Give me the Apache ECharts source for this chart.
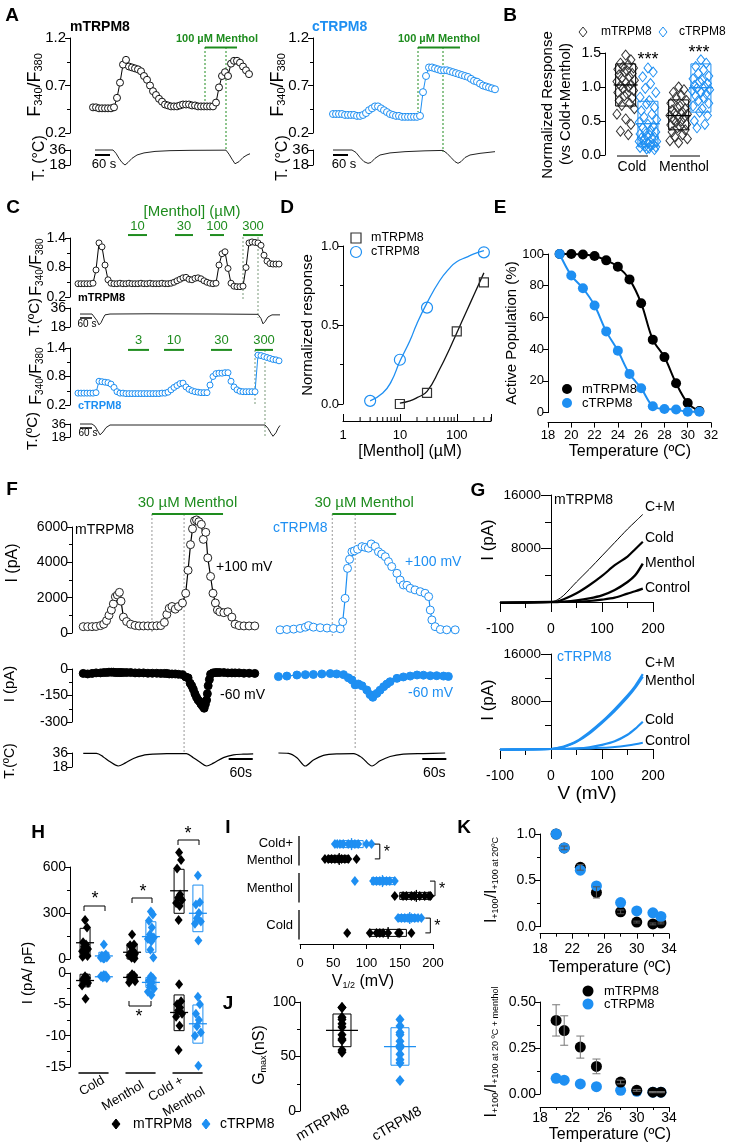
<!DOCTYPE html>
<html>
<head>
<meta charset="utf-8">
<title>TRPM8 figure</title>
<script src="https://cdn.jsdelivr.net/npm/echarts@6/dist/echarts.min.js"></script>
<style>html,body{margin:0;padding:0;background:#fff;}#chart{width:745px;height:1145px;}</style>
</head>
<body>
<div id="chart"></div>
<script>
// ================= DATA =================
// ---- A: Fura-2 ratio (sampled every 12 s) + bath temperature [s, degC]
const A_dt = 12;
const A_mTRPM8 = [0.47,0.47,0.46,0.46,0.46,0.46,0.46,0.47,0.57,0.73,0.92,0.97,0.90,0.89,0.88,0.87,0.85,0.80,0.76,0.70,0.64,0.60,0.56,0.53,0.50,0.49,0.48,0.48,0.48,0.49,0.50,0.50,0.50,0.49,0.49,0.48,0.48,0.48,0.48,0.48,0.48,0.52,0.68,0.80,0.84,0.80,0.93,0.96,0.96,0.94,0.90,0.86,0.82];
const A_cTRPM8 = [0.40,0.40,0.40,0.40,0.39,0.39,0.39,0.39,0.38,0.38,0.39,0.41,0.44,0.46,0.48,0.48,0.46,0.44,0.42,0.40,0.39,0.38,0.38,0.37,0.37,0.37,0.37,0.37,0.37,0.38,0.63,0.80,0.89,0.89,0.88,0.87,0.86,0.86,0.86,0.85,0.84,0.83,0.82,0.81,0.80,0.79,0.77,0.75,0.74,0.72,0.70,0.69,0.68,0.67,0.66];
const A_mTemp = [[8,36],[80,36],[92,32],[104,26],[116,21],[128,18],[140,21],[156,26],[176,30],[204,32.5],[248,34.3],[308,35.2],[388,35.6],[532,35.8],[544,31],[556,25],[568,19.5],[572,18.5],[584,22],[600,27],[616,30],[628,31.5]];
const A_cTemp = [[0,36],[76,36],[92,33],[108,27],[124,22],[140,20],[152,21],[168,26],[188,30],[228,32.5],[288,34],[368,35],[440,35.5],[456,32],[472,27],[488,22],[500,20],[512,22],[528,27],[548,30],[588,32],[648,34]];
const A_mMenthol = [448, 576], A_mDotted = [448, 532], A_mScale = [8, 68];
const A_cMenthol = [340, 508], A_cDotted = [340, 440], A_cScale = [0, 60];

// ---- B: normalized responses (order: mTRPM8 cold, cTRPM8 cold, mTRPM8 menthol, cTRPM8 menthol)
const B_mCold = [1.47,1.40,1.35,1.33,1.30,1.28,1.26,1.24,1.22,1.20,1.18,1.15,1.13,1.10,1.08,1.06,1.04,1.02,1.00,0.98,0.95,0.92,0.90,0.87,0.84,0.80,0.76,0.73,0.68,0.60,0.53,0.45,0.35,0.30];
const B_cCold = [1.28,1.22,1.15,1.05,0.98,0.92,0.85,0.80,0.75,0.70,0.65,0.60,0.56,0.52,0.48,0.45,0.42,0.40,0.37,0.35,0.34,0.31,0.30,0.28,0.26,0.25,0.24,0.22,0.20,0.20,0.18,0.16,0.15,0.14,0.13,0.12,0.11,0.10,0.09,0.08];
const B_mMenthol = [1.00,0.96,0.92,0.88,0.85,0.80,0.76,0.72,0.70,0.68,0.66,0.63,0.62,0.60,0.58,0.55,0.55,0.52,0.50,0.48,0.45,0.44,0.42,0.40,0.37,0.34,0.30,0.27,0.24,0.21,0.18];
const B_cMenthol = [1.40,1.35,1.30,1.25,1.20,1.16,1.12,1.10,1.08,1.05,1.02,1.00,0.98,0.96,0.95,0.92,0.90,0.87,0.84,0.80,0.76,0.72,0.68,0.63,0.58,0.50,0.45,0.40];
const B_boxLow = [0.72, 0.12, 0.37, 0.63];
const B_boxHigh = [1.34, 0.79, 0.81, 1.34];
const B_mean = [1.03, 0.46, 0.58, 0.99];

// ---- C: menthol dose traces (sampled every 15 s)
const C_dt = 15;
const C_mTRPM8 = [0.47,0.47,0.47,0.47,0.47,0.48,0.75,1.30,1.22,0.85,0.55,0.48,0.47,0.47,0.48,0.47,0.47,0.48,0.47,0.47,0.47,0.48,0.47,0.47,0.48,0.47,0.47,0.47,0.48,0.47,0.47,0.48,0.50,0.53,0.56,0.59,0.60,0.56,0.55,0.58,0.59,0.57,0.53,0.50,0.48,0.47,0.48,0.85,1.08,1.12,0.78,0.48,0.42,0.41,0.41,0.42,0.80,1.30,1.32,1.31,1.30,1.25,1.05,0.93,0.88,0.87,0.87,0.87];
const C_cTRPM8 = [0.45,0.45,0.45,0.45,0.45,0.45,0.46,0.70,0.69,0.68,0.67,0.64,0.57,0.48,0.45,0.45,0.44,0.44,0.44,0.44,0.44,0.44,0.44,0.44,0.44,0.44,0.44,0.44,0.45,0.45,0.47,0.52,0.57,0.61,0.65,0.66,0.58,0.53,0.50,0.48,0.47,0.46,0.46,0.46,0.62,0.80,0.86,0.87,0.87,0.88,0.88,0.70,0.58,0.52,0.49,0.48,0.48,0.48,0.48,0.48,1.25,1.24,1.22,1.20,1.18,1.16,1.15,1.13];
const C_mTemp = [[10,30.3],[70,30.3],[80,29],[95,24],[105,20],[115,22],[125,26],[135,29.5],[160,30.3],[360,30.5],[685,30.3],[900,30],[915,26],[925,21],[935,23],[950,27.5],[970,29.5],[1010,29.5]];
const C_cTemp = [[10,36],[70,36],[85,33],[100,26],[110,21],[125,25],[140,31],[160,34.6],[935,34.6],[950,30],[965,23],[975,19],[990,24],[1000,30],[1010,34]];
const C_mBars = [[250,345],[485,575],[660,730],[825,925]];
const C_mBarLabels = ['10','30','100','300'];
const C_cBars = [[250,355],[430,530],[665,770],[885,975]];
const C_cBarLabels = ['3','10','30','300'];
const C_mDotted = [825, 900], C_cDotted = [885, 935], C_scale = [10, 70];

// ---- D: dose-response (menthol, uM)
const D_concM = [10, 30, 100, 300];
const D_respM = [0.00, 0.07, 0.46, 0.77];
const D_concC = [3, 10, 30, 300];
const D_respC = [0.02, 0.28, 0.61, 0.96];
const D_fitMx = [10, 15, 20, 30, 50, 75, 100, 150, 200, 300];
const D_fitMy = [0.005, 0.02, 0.04, 0.08, 0.22, 0.35, 0.45, 0.59, 0.69, 0.83];
const D_fitCx = [3, 5, 7, 10, 15, 20, 30, 50, 75, 100, 150, 200, 300];
const D_fitCy = [0.02, 0.07, 0.14, 0.27, 0.40, 0.51, 0.64, 0.78, 0.86, 0.90, 0.93, 0.95, 0.97];
const D_minorTicks = [2,3,4,5,6,7,8,9,20,30,40,50,60,70,80,90,200,300,400];
const D_majorLabels = [1, 10, 100];

// ---- E: active population vs temperature
const E_T = [19,20,21,22,23,24,25,26,27,28,29,30,31];
const E_m = [100,100,99.7,98.7,96,92,84,69,46,35,18.5,6,1];
const E_c = [100,86.4,78.4,67.5,51.2,39,24.4,15.4,4,2.3,2,0.5,0.5];

// ---- F: whole-cell currents [s, pA] and temperature [s, degC]
const F_mUp = [[0,360],[11,360],[22,360],[32,370],[43,420],[51,500],[58,700],[64,1000],[70,1300],[75,1650],[80,2050],[85,2150],[90,2300],[94,1800],[100,900],[108,650],[118,500],[129,430],[139,400],[150,400],[161,400],[172,400],[183,410],[193,420],[202,600],[208,1050],[214,1400],[221,1500],[229,1350],[237,1500],[247,1700],[255,2250],[261,3550],[267,5000],[272,5900],[277,6350],[282,6400],[288,6300],[294,6150],[299,5300],[305,5700],[310,4250],[317,3200],[323,2250],[329,1700],[334,1300],[340,1200],[350,1150],[360,1200],[370,900],[378,500],[388,420],[400,400],[413,400],[427,400]];
const F_mLo = [[0,-25],[11,-28],[22,-25],[32,-22],[43,-22],[51,-20],[58,-20],[64,-18],[70,-18],[75,-18],[80,-20],[85,-20],[90,-20],[94,-20],[100,-20],[108,-20],[118,-20],[129,-22],[139,-22],[150,-22],[161,-24],[172,-24],[183,-24],[193,-25],[202,-25],[208,-25],[214,-28],[221,-28],[229,-28],[237,-30],[247,-32],[255,-45],[261,-50],[266,-80],[270,-95],[274,-115],[278,-140],[282,-160],[286,-176],[290,-185],[293,-198],[297,-210],[301,-222],[304,-200],[307,-176],[309,-140],[311,-95],[314,-60],[317,-30],[323,-22],[329,-20],[334,-20],[340,-20],[350,-20],[360,-22],[370,-22],[378,-22],[388,-22],[400,-24],[413,-24],[427,-25]];
const F_cUp = [[8,180],[25,200],[42,220],[58,260],[71,330],[79,420],[91,330],[108,300],[125,280],[141,260],[158,240],[164,640],[170,1960],[176,3660],[181,4170],[187,4600],[193,4650],[201,4740],[212,4890],[220,4850],[228,4800],[235,5040],[245,4900],[253,4600],[261,4470],[270,4320],[278,4040],[286,3760],[299,3380],[307,3000],[315,2720],[324,2700],[332,2530],[344,2440],[357,2340],[369,2250],[378,2060],[382,1300],[386,740],[394,360],[407,200],[423,180],[444,180]];
const F_cLo = [[4,-43],[25,-40],[50,-34],[71,-32],[91,-31],[112,-28],[133,-26],[149,-28],[166,-32],[178,-50],[187,-62],[195,-90],[203,-85],[212,-95],[224,-119],[232,-145],[239,-160],[249,-138],[257,-120],[266,-100],[274,-85],[282,-72],[299,-53],[315,-45],[332,-40],[349,-34],[365,-35],[382,-38],[398,-38],[415,-40],[427,-42]];
const F_mTemp = [[0,35.6],[33,35.6],[50,31],[66,25],[87,19.3],[104,23],[125,29],[149,33],[174,34.5],[208,35.3],[257,35.3],[274,30],[291,24],[307,19.3],[324,23],[349,30],[374,33.5],[398,34.5],[423,35]];
const F_cTemp = [[4,36],[29,35.5],[50,30],[71,19.3],[91,27],[116,33],[149,35],[191,35.3],[212,30],[237,19.3],[257,26],[282,31.5],[315,34.5],[365,35.3],[419,36]];
const F_mMenthol = [171, 348], F_mDotted = [171, 251];
const F_cMenthol = [138, 297], F_cDotted = [138, 195];
const F_scale = [362, 422];

// ---- G: I-V curves (mV, pA)
const G_V = [-100,-50,0,12,25,50,75,100,125,150,165,180];
const G_mCM = [-200,-100,0,300,1000,3000,4900,6900,8900,10900,12000,13100];
const G_mCold = [-150,-80,0,80,400,1300,2500,3900,5500,6800,7900,9000];
const G_mMenthol = [-100,-50,0,0,50,250,550,1000,1800,3000,4000,5750];
const G_mControl = [-100,-50,0,0,0,60,150,350,650,1250,1600,2000];
const G_cCM = [-150,-80,0,150,400,1300,2800,4600,6700,9000,10600,12600];
const G_cMenthol = [-150,-80,0,120,350,1200,2600,4400,6400,8700,10300,12200];
const G_cCold = [-100,-50,0,0,20,100,300,700,1300,2400,3400,4600];
const G_cControl = [-100,-50,0,0,0,50,100,200,350,600,800,1050];

// ---- H: current densities (pA/pF); order m/c Cold, m/c Menthol, m/c Cold+Menthol
const H_upMCold = [255,205,110,95,80,65,50,40,30,20,15];
const H_upCCold = [95,30,22,18,14,10,8,5,3];
const H_upMMenthol = [160,95,90,55,45,35,25,15,8,3];
const H_upCMenthol = [310,290,250,205,160,140,130,115,60,10];
const H_upMCM = [695,645,590,420,400,385,365,345,255];
const H_upCCM = [545,370,355,300,265,245,230,120];
const H_upBoxLow = [15,0,0,44,298,178];
const H_upBoxHigh = [200,44,100,243,585,482];
const H_upMean = [106,20,44,146,445,298];
const H_loMCold = [-0.5,-0.8,-1.0,-1.2,-1.4,-1.6,-2.0,-4.1];
const H_loCCold = [-0.3,-0.4,-0.5,-0.6,-0.7,-0.8,-0.5];
const H_loMMenthol = [-0.2,-0.4,-0.6,-0.8,-1.0,-1.3,-1.5];
const H_loCMenthol = [-0.5,-0.8,-1.2,-1.5,-2.0,-2.5,-3.0,-3.5];
const H_loMCM = [-1.8,-4.5,-5.0,-5.5,-6.0,-6.5,-7.0,-8.4,-12.3];
const H_loCCM = [-3.8,-5.0,-6.5,-7.5,-8.5,-9.5,-10.0,-14.8];
const H_loBoxLow = [-2.2,-0.8,-1.2,-2.3,-9.2,-11.2];
const H_loBoxHigh = [-0.2,-0.3,-0.2,-0.7,-3.5,-5.1];
const H_loMean = [-1.2,-0.6,-0.7,-1.5,-6.3,-8.1];

// ---- I: V1/2 (mV); order cCM, mCM, cMenthol, mMenthol, cCold, mCold
const I_cCM = [52.5,56,60,65,72.5,77.5,82.5,87.5,100,107.5];
const I_mCM = [37.5,42.5,47.5,52.5,57.5,62.5,67.5,72.5,85];
const I_cMenthol = [82.5,110,115,120,125,130,135,142.5];
const I_mMenthol = [142.5,155,160,167.5,172.5,180,187.5,194,196];
const I_cCold = [147.5,152.5,157.5,162.5,167.5,172.5,177.5,182.5];
const I_mCold = [71,105,115,120,125,132.5,147.5,150,167.5];
const I_boxLow = [60,42.5,107.5,150,147.5,105];
const I_boxHigh = [95,74,142.5,197.5,175,160];
const I_mean = [77.5,59,124,175,165,132.5];

// ---- J: Gmax (nS)
const J_m = [95,95,86,84,80,77,70,66,65,56,54];
const J_c = [84,78,72,70,64,60,58,52,47,44,28];
const J_boxLow = [59,42];
const J_boxHigh = [89,76.4];
const J_mean = [74,59];
const J_categories = ['mTRPM8','cTRPM8'];

// ---- K: normalized currents vs temperature
const K_T = [20,21,23,25,28,30,32,33];
const K_upM = [1.0,0.85,0.64,0.37,0.16,0.05,0.03,0.04];
const K_upMerr = [0,0.02,0.03,0.06,0.02,0.01,0.01,0.01];
const K_upC = [1.0,0.85,0.61,0.44,0.26,0.17,0.15,0.11];
const K_loM = [0.40,0.345,0.255,0.15,0.065,0.02,0.01,0.01];
const K_loMerr = [0.085,0.08,0.06,0.04,0.01,0.005,0.003,0.003];
const K_loC = [0.085,0.075,0.055,0.04,0.02,0.015,0.01,0.01];

// ================= HELPERS =================
const FONT = '"Liberation Sans", Arial, Helvetica, sans-serif';
const BLUE = '#1e8ff2', GREEN = '#1e8c1e', BLK = '#000';
const PI2 = Math.PI / 2;
const JIT = [0, 0.6, -0.6, 0.3, -0.3, 0.9, -0.9, 0.15, -0.15, 0.75, -0.75, 0.45, -0.45, 1, -1];
const jit = i => JIT[i % JIT.length];
const f0 = v => String(v), f1 = v => v.toFixed(1), f2 = v => v.toFixed(2);

function merge(a, b) {
  const out = Object.assign({}, a);
  for (const k in b) {
    const v = b[k];
    if (v && typeof v === 'object' && !Array.isArray(v) && out[k] && typeof out[k] === 'object' && !Array.isArray(out[k])) out[k] = merge(out[k], v);
    else out[k] = v;
  }
  return out;
}
const baseAxis = {
  type: 'value', show: true,
  axisLine: {show: true, onZero: false, lineStyle: {color: '#000', width: 1}},
  axisTick: {show: true, inside: false, length: 5, lineStyle: {color: '#000', width: 1}},
  minorTick: {show: false, splitNumber: 2, length: 3, lineStyle: {color: '#000', width: 1}},
  splitLine: {show: false}, minorSplitLine: {show: false},
  axisLabel: {show: true, color: '#000', fontSize: 13, fontFamily: FONT, margin: 4, hideOverlap: false,
    showMinLabel: true, showMaxLabel: true, formatter: f0}
};
const ax = o => merge(baseAxis, o || {});
const hid = (min, max, extra) => merge({type: 'value', min: min, max: max, show: false, axisLine: {onZero: false}}, extra || {});

const grids = [], xAxes = [], yAxes = [], series = [];
function grid(left, top, width, height, xa, ya) {
  const i = grids.length;
  grids.push({left: left, top: top, width: width, height: height, containLabel: false, outerBoundsMode: 'none'});
  xAxes.push(merge(xa, {gridIndex: i}));
  yAxes.push(merge(ya, {gridIndex: i}));
  return i;
}
function add(g, s) { series.push(merge({xAxisIndex: g, yAxisIndex: g, animation: false, silent: true, clip: false}, s)); }
function circTrace(g, data, stroke, lineColor, size, fill, lw) {
  add(g, {type: 'line', data: data, symbol: 'circle', symbolSize: size, showSymbol: true, showAllSymbol: true, z: 3,
    itemStyle: {color: fill, borderColor: stroke, borderWidth: 1},
    lineStyle: {color: lineColor, width: lw || 1}});
}
function plain(g, data, color, width, extra) {
  add(g, merge({type: 'line', data: data, symbol: 'none', showSymbol: false, z: 3, lineStyle: {color: color, width: width}}, extra || {}));
}
function pts(g, data, symbol, size, fill, stroke, bw, z) {
  add(g, {type: 'scatter', data: data, symbol: symbol, symbolSize: size, z: z || 3,
    itemStyle: {color: fill, borderColor: stroke, borderWidth: bw || 0, opacity: 1}});
}
function vBoxes(g, xs, lows, highs, means, colors, halfW, meanHalf) {
  add(g, {type: 'custom', z: 4, data: xs.map((x, i) => [x, lows[i], highs[i], means[i]]),
    renderItem: (p, api) => {
      const x = api.value(0), c = colors[p.dataIndex];
      const lo = api.coord([x, api.value(1)]), hi = api.coord([x, api.value(2)]), m = api.coord([x, api.value(3)]);
      return {type: 'group', children: [
        {type: 'rect', shape: {x: lo[0] - halfW, y: hi[1], width: 2 * halfW, height: lo[1] - hi[1]}, style: {fill: 'none', stroke: c, lineWidth: 1}},
        {type: 'line', shape: {x1: m[0] - meanHalf, y1: m[1], x2: m[0] + meanHalf, y2: m[1]}, style: {stroke: c, lineWidth: 1.3}}
      ]};
    }});
}
function hBoxes(g, rows, lows, highs, means, colors, halfH, meanHalf) {
  add(g, {type: 'custom', z: 4, data: rows.map((r, i) => [lows[i], r, highs[i], means[i]]),
    renderItem: (p, api) => {
      const r = api.value(1), c = colors[p.dataIndex];
      const lo = api.coord([api.value(0), r]), hi = api.coord([api.value(2), r]), m = api.coord([api.value(3), r]);
      return {type: 'group', children: [
        {type: 'rect', shape: {x: lo[0], y: lo[1] - halfH, width: hi[0] - lo[0], height: 2 * halfH}, style: {fill: 'none', stroke: c, lineWidth: 1}},
        {type: 'line', shape: {x1: m[0], y1: m[1] - meanHalf, x2: m[0], y2: m[1] + meanHalf}, style: {stroke: c, lineWidth: 1.3}}
      ]};
    }});
}
function errBars(g, xs, ys, es, color, cap) {
  add(g, {type: 'custom', z: 6, data: xs.map((x, i) => [x, ys[i], es[i]]),
    renderItem: (p, api) => {
      const x = api.value(0), y = api.value(1), e = api.value(2);
      if (!e) return {type: 'group', children: []};
      const a = api.coord([x, y + e]), b = api.coord([x, y - e]);
      const st = {stroke: color, lineWidth: 1};
      return {type: 'group', children: [
        {type: 'line', shape: {x1: a[0], y1: a[1], x2: b[0], y2: b[1]}, style: st},
        {type: 'line', shape: {x1: a[0] - cap, y1: a[1], x2: a[0] + cap, y2: a[1]}, style: st},
        {type: 'line', shape: {x1: b[0] - cap, y1: b[1], x2: b[0] + cap, y2: b[1]}, style: st}
      ]};
    }});
}

// ================= PANELS =================
// ---- A
const yA = ax({min: 0.2, max: 1.2, interval: 0.5, minorTick: {show: true}, axisLabel: {fontSize: 15, formatter: f1}});
const yT15 = ax({min: 18, max: 36, interval: 18, axisLabel: {fontSize: 15}});
const gA1 = grid(70, 38, 185, 95, hid(-92, 648), yA);
const gA1t = grid(70, 150, 185, 15, hid(-92, 648), yT15);
const gA2 = grid(313, 38, 185, 95, hid(-80, 660), yA);
const gA2t = grid(313, 150, 185, 15, hid(-80, 660), yT15);
circTrace(gA1, A_mTRPM8.map((v, i) => [i * A_dt, v]), '#111', '#000', 7, '#fff');
circTrace(gA2, A_cTRPM8.map((v, i) => [i * A_dt, v]), BLUE, BLUE, 7, '#fff');
plain(gA1t, A_mTemp, '#222', 1);
plain(gA2t, A_cTemp, '#222', 1);
plain(gA1, A_mMenthol.map(t => [t, 1.1]), GREEN, 2);
plain(gA2, A_cMenthol.map(t => [t, 1.1]), GREEN, 2);
plain(gA1t, A_mScale.map(t => [t, 30]), '#000', 2);
plain(gA2t, A_cScale.map(t => [t, 30]), '#000', 2);

// ---- B
const gB = grid(605, 53, 115, 102, hid(-0.2, 4.14), ax({min: 0, max: 1.5, interval: 0.5, axisLabel: {fontSize: 14, formatter: f1}}));
const B_x = [0.58, 1.42, 2.58, 3.42];
[B_mCold, B_cCold, B_mMenthol, B_cMenthol].forEach((arr, k) =>
  pts(gB, arr.map((v, i) => [B_x[k] + jit(i) * 0.33, v]), 'diamond', [8, 10], 'rgba(255,255,255,0)', k % 2 ? BLUE : '#333', 1));
vBoxes(gB, B_x, B_boxLow, B_boxHigh, B_mean, [BLK, BLUE, BLK, BLUE], 10, 12);

// ---- C
const yC = ax({min: 0.2, max: 1.4, interval: 0.6, minorTick: {show: true}, axisLabel: {fontSize: 14, formatter: f1}});
const yT14 = ax({min: 18, max: 36, interval: 18, axisLabel: {fontSize: 14}});
const yT13 = ax({min: 18, max: 36, interval: 18, axisLabel: {fontSize: 13}});
const gC1 = grid(70, 238, 220, 59, hid(-40, 1060), yC);
const gC1t = grid(70, 308, 220, 19, hid(-40, 1060), yT14);
const gC2 = grid(70, 348, 220, 57, hid(-40, 1060), yC);
const gC2t = grid(70, 424, 220, 13, hid(-40, 1060), yT13);
circTrace(gC1, C_mTRPM8.map((v, i) => [i * C_dt, v]), '#222', '#000', 6, '#fff');
circTrace(gC2, C_cTRPM8.map((v, i) => [i * C_dt, v]), BLUE, BLUE, 6, '#fff');
plain(gC1t, C_mTemp, '#222', 1);
plain(gC2t, C_cTemp, '#222', 1);
C_mBars.forEach(b => plain(gC1, b.map(t => [t, 1.46]), GREEN, 2));
C_cBars.forEach(b => plain(gC2, b.map(t => [t, 1.36]), GREEN, 2));
plain(gC1t, C_scale.map(t => [t, 26.5]), '#000', 1.5);
plain(gC2t, C_scale.map(t => [t, 30.5]), '#000', 1.5);

// ---- D
const gD = grid(343, 246, 148, 158,
  ax({type: 'log', logBase: 10, min: 1, max: 400, offset: 17, axisTick: {inside: true, length: 7},
      axisLabel: {fontSize: 13, margin: 8, formatter: v => D_majorLabels.indexOf(v) >= 0 ? String(v) : ''}}),
  ax({min: 0, max: 1, interval: 0.5, minorTick: {show: true}, axisLabel: {fontSize: 13, formatter: f1}}));
add(gD, {type: 'custom', z: 3, data: D_minorTicks.map(v => [v, 0]), renderItem: (p, api) => {
  const c = api.coord([api.value(0), 0]);
  return {type: 'line', shape: {x1: c[0], y1: c[1] + 17, x2: c[0], y2: c[1] + 13}, style: {stroke: '#000', lineWidth: 1}};
}});
plain(gD, D_fitMx.map((x, i) => [x, D_fitMy[i]]), '#111', 1.3, {smooth: true});
plain(gD, D_fitCx.map((x, i) => [x, D_fitCy[i]]), BLUE, 1.3, {smooth: true});
pts(gD, D_concM.map((x, i) => [x, D_respM[i]]), 'rect', 9, 'rgba(255,255,255,0)', '#333', 1.2, 5);
pts(gD, D_concC.map((x, i) => [x, D_respC[i]]), 'circle', 11, 'rgba(255,255,255,0)', BLUE, 1.2, 5);

// ---- E
const gE = grid(548, 254, 163, 158.6,
  ax({min: 18, max: 32, interval: 2, offset: 10, axisLabel: {fontSize: 13, margin: 6}}),
  ax({min: 0, max: 100, interval: 20, axisLabel: {fontSize: 13}}));
add(gE, {type: 'line', data: E_T.map((t, i) => [t, E_m[i]]), smooth: 0.35, symbol: 'circle', symbolSize: 10, showAllSymbol: true, z: 3,
  itemStyle: {color: '#000'}, lineStyle: {color: '#000', width: 2}});
add(gE, {type: 'line', data: E_T.map((t, i) => [t, E_c[i]]), smooth: 0.35, symbol: 'circle', symbolSize: 10, showAllSymbol: true, z: 4,
  itemStyle: {color: BLUE}, lineStyle: {color: BLUE, width: 2}});

// ---- F
const gF1 = grid(72, 527, 190, 106, hid(-28, 445), ax({min: 0, max: 6000, interval: 2000, minorTick: {show: true}, axisLabel: {fontSize: 14}}));
const gF2 = grid(72, 669, 190, 53, hid(-28, 445), ax({min: -300, max: 0, interval: 150, minorTick: {show: true}, axisLabel: {fontSize: 14}}));
const gF3 = grid(72, 753, 190, 14, hid(-28, 445), yT14);
const gF4 = grid(270, 527, 190, 106, hid(-17, 456), hid(0, 6000));
const gF5 = grid(270, 669, 190, 53, hid(-17, 456), hid(-300, 0));
const gF6 = grid(270, 753, 190, 14, hid(-17, 456), hid(18, 36));
circTrace(gF1, F_mUp, '#222', '#000', 8, '#fff', 1.2);
circTrace(gF4, F_cUp, BLUE, BLUE, 8, '#fff', 1.2);
circTrace(gF2, F_mLo, '#000', '#000', 8, '#000', 1.2);
circTrace(gF5, F_cLo, BLUE, BLUE, 8, BLUE, 1.2);
plain(gF3, F_mTemp, '#000', 1.2, {smooth: 0.3});
plain(gF6, F_cTemp, '#000', 1.2, {smooth: 0.3});
plain(gF1, F_mMenthol.map(t => [t, 6740]), GREEN, 2);
plain(gF4, F_cMenthol.map(t => [t, 6740]), GREEN, 2);
plain(gF3, F_scale.map(t => [t, 28.3]), '#000', 2);
plain(gF6, F_scale.map(t => [t, 28.3]), '#000', 2);

// ---- G
const xG = ax({min: -100, max: 200, interval: 100, minorTick: {show: true, length: 6}, axisTick: {length: 10}, axisLabel: {fontSize: 14, margin: 20}});
const yG = ax({min: 0, max: 16000, interval: 8000, offset: -51, minorTick: {show: true, length: 6}, axisTick: {length: 10},
  axisLabel: {fontSize: 13.5, margin: 10, formatter: v => v === 0 ? '' : String(v)}});
const gG1 = grid(500, 495, 153, 107, xG, yG);
const gG2 = grid(500, 654, 153, 95, xG, yG);
const gv = arr => G_V.map((v, i) => [v, arr[i]]);
plain(gG1, gv(G_mControl), '#000', 2.2, {smooth: 0.3});
plain(gG1, gv(G_mMenthol), '#000', 2.4, {smooth: 0.3});
plain(gG1, gv(G_mCold), '#000', 2.2, {smooth: 0.3});
plain(gG1, gv(G_mCM), '#000', 1, {smooth: 0.3});
plain(gG2, gv(G_cControl), BLUE, 2, {smooth: 0.3});
plain(gG2, gv(G_cCold), BLUE, 2.2, {smooth: 0.3});
plain(gG2, gv(G_cMenthol), BLUE, 2.2, {smooth: 0.3});
plain(gG2, gv(G_cCM), BLUE, 2.2, {smooth: 0.3});

// ---- H
const gH1 = grid(70, 867, 150, 92, hid(0.48, 3.67), ax({min: 0, max: 600, interval: 300, minorTick: {show: true}, axisLabel: {fontSize: 14}}));
const gH2 = grid(70, 973, 150, 94, hid(0.48, 3.67), ax({min: -15, max: 0, interval: 5, minorTick: {show: true}, axisLabel: {fontSize: 14}}));
const H_x = [0.8, 1.2, 1.8, 2.2, 2.8, 3.2];
const H_cols = [BLK, BLUE, BLK, BLUE, BLK, BLUE];
[H_upMCold, H_upCCold, H_upMMenthol, H_upCMenthol, H_upMCM, H_upCCM].forEach((arr, k) =>
  pts(gH1, arr.map((v, i) => [H_x[k] + jit(i) * 0.07, v]), 'diamond', [8, 10], H_cols[k], H_cols[k], 0));
[H_loMCold, H_loCCold, H_loMMenthol, H_loCMenthol, H_loMCM, H_loCCM].forEach((arr, k) =>
  pts(gH2, arr.map((v, i) => [H_x[k] + jit(i) * 0.07, v]), 'diamond', [8, 10], H_cols[k], H_cols[k], 0));
vBoxes(gH1, H_x, H_upBoxLow, H_upBoxHigh, H_upMean, H_cols, 5, 9);
vBoxes(gH2, H_x, H_loBoxLow, H_loBoxHigh, H_loMean, H_cols, 5, 9);

// ---- I
const gI = grid(300, 833, 133, 111, ax({min: 0, max: 200, interval: 50, axisLabel: {fontSize: 13, margin: 13}}), hid(0.5, 3.5, {inverse: true}));
const I_rows = [0.8, 1.2, 1.8, 2.2, 2.8, 3.2];
const I_cols = [BLUE, BLK, BLUE, BLK, BLUE, BLK];
[I_cCM, I_mCM, I_cMenthol, I_mMenthol, I_cCold, I_mCold].forEach((arr, k) =>
  pts(gI, arr.map(v => [v, I_rows[k]]), 'diamond', [8, 10], I_cols[k], I_cols[k], 0));
hBoxes(gI, I_rows, I_boxLow, I_boxHigh, I_mean, I_cols, 3.5, 6);

// ---- J
const gJ = grid(300, 1002, 140, 109, hid(0.276, 2.69), ax({min: 0, max: 100, interval: 50, minorTick: {show: true}, axisLabel: {fontSize: 14}}));
pts(gJ, J_m.map(v => [1, v]), 'diamond', [9, 11], BLK, BLK, 0);
pts(gJ, J_c.map(v => [2, v]), 'diamond', [9, 11], BLUE, BLUE, 0);
vBoxes(gJ, [1, 2], J_boxLow, J_boxHigh, J_mean, [BLK, BLUE], 9, 16);

// ---- K
const gK1 = grid(540, 834, 129, 92.7,
  ax({min: 18, max: 34, interval: 4, offset: 7, minorTick: {show: true}, axisLabel: {fontSize: 14, margin: 8}}),
  ax({min: 0, max: 1, interval: 0.5, minorTick: {show: true}, axisLabel: {fontSize: 14, formatter: f1}}));
const gK2 = grid(540, 1002, 129, 92,
  ax({min: 18, max: 34, interval: 4, offset: 13, minorTick: {show: true}, axisLabel: {fontSize: 14, margin: 4}}),
  ax({min: 0, max: 0.5, interval: 0.25, minorTick: {show: true}, axisLabel: {fontSize: 14, formatter: f2}}));
pts(gK1, K_T.map((t, i) => [t, K_upM[i]]), 'circle', 11, BLK, BLK, 0, 3);
pts(gK1, K_T.map((t, i) => [t, K_upC[i]]), 'circle', 11, BLUE, BLUE, 0, 4);
errBars(gK1, K_T, K_upM, K_upMerr, '#555', 3.5);
pts(gK2, K_T.map((t, i) => [t, K_loC[i]]), 'circle', 11, BLUE, BLUE, 0, 3);
pts(gK2, K_T.map((t, i) => [t, K_loM[i]]), 'circle', 11, BLK, BLK, 0, 4);
errBars(gK2, K_T, K_loM, K_loMerr, '#777', 4);

// ================= RENDER =================
const chart = echarts.init(document.getElementById('chart'), null, {renderer: 'canvas', width: 745, height: 1145});
chart.setOption({animation: false, backgroundColor: '#fff', textStyle: {fontFamily: FONT},
  grid: grids, xAxis: xAxes, yAxis: yAxes, series: series});

const X = (g, v) => chart.convertToPixel({xAxisIndex: g}, v);
const Y = (g, v) => chart.convertToPixel({yAxisIndex: g}, v);
const GR = [];
function T(x, y, text, o) {
  o = o || {};
  GR.push({type: 'text', x: x, y: y, rotation: o.rot || 0, silent: true, z: 100,
    style: {text: text, fill: o.color || '#000', fontSize: o.size || 13, fontFamily: FONT, fontWeight: o.bold ? 'bold' : 'normal',
      align: o.align || 'center', verticalAlign: o.va || 'middle'}});
}
function R(x, y, parts, o) {
  o = o || {};
  const big = o.size || 16, small = o.sub || 10, color = o.color || '#000';
  const text = parts.map(p => '{' + (p[1] ? 's' : 'n') + '|' + p[0] + '}').join('');
  GR.push({type: 'text', x: x, y: y, rotation: o.rot || 0, silent: true, z: 100,
    style: {text: text, align: 'center', verticalAlign: 'middle', fontFamily: FONT, fontSize: big, fill: color,
      rich: {n: {fontSize: big, fontFamily: FONT, fill: color, lineHeight: big + 4, verticalAlign: 'bottom'},
             s: {fontSize: small, fontFamily: FONT, fill: color, lineHeight: small, verticalAlign: 'bottom'}}}});
}
function L(x1, y1, x2, y2, o) {
  o = o || {};
  GR.push({type: 'line', silent: true, z: o.z || 90, shape: {x1: x1, y1: y1, x2: x2, y2: y2},
    style: {stroke: o.color || '#000', lineWidth: o.w || 1, lineDash: o.dash || null}});
}
function PL(points, o) {
  o = o || {};
  GR.push({type: 'polyline', silent: true, z: 90, shape: {points: points}, style: {stroke: o.color || '#000', lineWidth: o.w || 1, fill: 'none'}});
}
function diamond(cx, cy, w, h, fill, stroke) {
  GR.push({type: 'polygon', silent: true, z: 100, shape: {points: [[cx, cy - h], [cx + w, cy], [cx, cy + h], [cx - w, cy]]},
    style: {fill: fill, stroke: stroke, lineWidth: 1}});
}
function dot(cx, cy, r, fill, stroke) {
  GR.push({type: 'circle', silent: true, z: 100, shape: {cx: cx, cy: cy, r: r}, style: {fill: fill, stroke: stroke || null, lineWidth: 1.2}});
}
const vDot = (g, t, y1, y2, color) => { const x = X(g, t); L(x, y1, x, y2, {dash: [2, 2], color: color, z: 1}); };

// panel letters
[['A', 12, 16], ['B', 510, 16], ['C', 13, 208], ['D', 287, 208], ['E', 500, 208], ['F', 12, 490], ['G', 478, 491],
 ['H', 38, 833], ['I', 228, 828], ['J', 228, 1004], ['K', 464, 828]].forEach(a => T(a[1], a[2], a[0], {bold: true, size: 19}));

// A
T(70, 27, 'mTRPM8', {bold: true, size: 14, align: 'left'});
T(312, 27, 'cTRPM8', {bold: true, size: 14, align: 'left', color: BLUE});
R(33, 85, [['F'], ['340', 1], ['/F'], ['380', 1]], {rot: PI2, size: 18, sub: 11});
R(276, 85, [['F'], ['340', 1], ['/F'], ['380', 1]], {rot: PI2, size: 18, sub: 11});
T(40, 158, 'T. (°C)', {rot: PI2, size: 16});
T(283, 158, 'T. (°C)', {rot: PI2, size: 16});
T(X(gA1, (A_mMenthol[0] + A_mMenthol[1]) / 2) - 4, 39, '100 µM Menthol', {color: GREEN, bold: true, size: 11});
T(X(gA2, (A_cMenthol[0] + A_cMenthol[1]) / 2), 39, '100 µM Menthol', {color: GREEN, bold: true, size: 11});
T(104, 164, '60 s', {size: 13});
T(344, 164, '60 s', {size: 13});
vDot(gA1, A_mDotted[0], 47, 110, GREEN); vDot(gA1, A_mDotted[1], 47, 150, GREEN);
vDot(gA2, A_cDotted[0], 47, 112, GREEN); vDot(gA2, A_cDotted[1], 47, 152, GREEN);

// B
diamond(583, 32, 4, 5, 'none', '#333'); T(601, 32, 'mTRPM8', {align: 'left', size: 12});
diamond(663, 32, 4, 5, 'none', BLUE); T(679, 32, 'cTRPM8', {align: 'left', size: 12});
T(X(gB, B_x[1]), 60, '***', {size: 18});
T(X(gB, B_x[3]) - 2, 53, '***', {size: 18});
L(617, 156, 648, 156); L(670, 156, 700, 156);
T(632, 167, 'Cold', {size: 14}); T(684, 167, 'Menthol', {size: 14});
T(548, 105, 'Normalized Response', {rot: PI2, size: 15});
T(566, 104, '(vs Cold+Menthol)', {rot: PI2, size: 15});

// C
T(192, 212, '[Menthol] (µM)', {color: GREEN, size: 15});
C_mBars.forEach((b, i) => T(X(gC1, (b[0] + b[1]) / 2), 226, C_mBarLabels[i], {color: GREEN, size: 13}));
C_cBars.forEach((b, i) => T(X(gC2, (b[0] + b[1]) / 2), 340, C_cBarLabels[i], {color: GREEN, size: 13}));
T(78, 298, 'mTRPM8', {bold: true, size: 11, align: 'left'});
T(78, 406, 'cTRPM8', {bold: true, size: 11, align: 'left', color: BLUE});
R(35, 267, [['F'], ['340', 1], ['/F'], ['380', 1]], {rot: PI2, size: 16, sub: 10});
R(35, 376, [['F'], ['340', 1], ['/F'], ['380', 1]], {rot: PI2, size: 16, sub: 10});
T(35, 317, 'T.(ºC)', {rot: PI2, size: 15});
T(33, 431, 'T.(ºC)', {rot: PI2, size: 15});
T(87, 324, '60 s', {size: 10});
T(88, 433, '60 s', {size: 10});
vDot(gC1, C_mDotted[0], 237, 300, '#7a9a7a'); vDot(gC1, C_mDotted[1], 237, 318, '#7a9a7a');
vDot(gC2, C_cDotted[0], 350, 405, '#7a9a7a'); vDot(gC2, C_cDotted[1], 350, 436, '#7a9a7a');

// D
GR.push({type: 'rect', silent: true, z: 100, shape: {x: 351, y: 233, width: 10, height: 10}, style: {fill: 'none', stroke: '#333', lineWidth: 1.2}});
T(371, 238, 'mTRPM8', {align: 'left', size: 12.5});
dot(356, 252, 5.5, 'none', BLUE);
T(371, 252, 'cTRPM8', {align: 'left', size: 12.5});
T(308, 325, 'Normalized response', {rot: PI2, size: 15});
T(410, 452, '[Menthol] (µM)', {size: 16});

// E
dot(567, 389, 5, '#000'); T(582, 389, 'mTRPM8', {align: 'left', size: 13});
dot(567, 403, 5, BLUE); T(582, 403, 'cTRPM8', {align: 'left', size: 13});
T(512, 333, 'Active Population (%)', {rot: PI2, size: 15});
T(630, 452, 'Temperature (ºC)', {size: 16});

// F
T(X(gF1, (F_mMenthol[0] + F_mMenthol[1]) / 2), 503, '30 µM Menthol', {color: GREEN, size: 15});
T(X(gF4, (F_cMenthol[0] + F_cMenthol[1]) / 2), 503, '30 µM Menthol', {color: GREEN, size: 15});
vDot(gF1, F_mDotted[0], 514, 633, '#999'); vDot(gF1, F_mDotted[1], 514, 752, '#999');
vDot(gF4, F_cDotted[0], 514, 636, '#999'); vDot(gF4, F_cDotted[1], 514, 750, '#999');
T(75, 530, 'mTRPM8', {align: 'left', size: 14});
T(216, 567, '+100 mV', {align: 'left', size: 14});
T(220, 695, '-60 mV', {align: 'left', size: 14});
T(273, 528, 'cTRPM8', {align: 'left', size: 14, color: BLUE});
T(405, 562, '+100 mV', {align: 'left', size: 14, color: BLUE});
T(408, 693, '-60 mV', {align: 'left', size: 14, color: BLUE});
T(13, 563, 'I (pA)', {rot: PI2, size: 16});
T(10, 684, 'I (pA)', {rot: PI2, size: 15});
T(10, 761, 'T.(ºC)', {rot: PI2, size: 14});
T(X(gF3, (F_scale[0] + F_scale[1]) / 2), 773, '60s', {size: 14});
T(X(gF6, (F_scale[0] + F_scale[1]) / 2), 773, '60s', {size: 14});

// G
T(554, 500, 'mTRPM8', {align: 'left', size: 14});
T(557, 657, 'cTRPM8', {align: 'left', size: 14, color: BLUE});
[['C+M', 507], ['Cold', 538], ['Menthol', 563], ['Control', 588], ['C+M', 663], ['Menthol', 681], ['Cold', 720], ['Control', 741]]
  .forEach(a => T(645, a[1], a[0], {align: 'left', size: 14}));
T(488, 540, 'I (pA)', {rot: PI2, size: 17});
T(488, 700, 'I (pA)', {rot: PI2, size: 17});
T(587, 794, 'V (mV)', {size: 19});

// H
PL([[84, 911], [84, 906], [105, 906], [105, 911]]); T(95, 899, '*', {size: 18});
PL([[132, 903], [132, 898], [152, 898], [152, 903]]); T(143, 892, '*', {size: 18});
PL([[178, 845], [178, 840], [199, 840], [199, 845]]); T(188, 834, '*', {size: 18});
PL([[129, 1001], [129, 1006], [151, 1006], [151, 1001]]); T(139, 1017, '*', {size: 18});
[1, 2, 3].forEach(u => L(X(gH1, u - 0.34), 1073, X(gH1, u + 0.3), 1073, {w: 1.5}));
T(92, 1086, 'Cold', {rot: Math.PI / 6, size: 13});
T(123, 1096, 'Menthol', {rot: Math.PI / 6, size: 13});
T(166, 1089, 'Cold +', {rot: Math.PI / 6, size: 13});
T(184, 1102, 'Menthol', {rot: Math.PI / 6, size: 13});
T(28, 973, 'I (pA/ pF)', {rot: PI2, size: 15});
diamond(116, 1124, 4, 5, '#000', '#000'); T(133, 1124, 'mTRPM8', {align: 'left', size: 14});
diamond(206, 1124, 4, 5, BLUE, BLUE); T(220, 1124, 'cTRPM8', {align: 'left', size: 14});

// I
[1, 2, 3].forEach(u => L(299, Y(gI, u - 0.42), 299, Y(gI, u + 0.38), {w: 1.3}));
T(293, 843, 'Cold+', {align: 'right', size: 13});
T(293, 860, 'Menthol', {align: 'right', size: 13});
T(293, 888, 'Menthol', {align: 'right', size: 13});
T(293, 925, 'Cold', {align: 'right', size: 13});
[[0, 1, 120], [2, 3, 203], [4, 5, 196]].forEach(b => {
  const y1 = Y(gI, I_rows[b[0]]), y2 = Y(gI, I_rows[b[1]]), x = X(gI, b[2]);
  PL([[x - 5, y1], [x, y1], [x, y2], [x - 5, y2]]);
  T(x + 7, (y1 + y2) / 2 + 1, '*', {size: 16});
});
R(363, 980, [['V'], ['1/2', 1], [' (mV)']], {size: 16, sub: 9});

// J
T(X(gJ, 1) - 19, 1123, J_categories[0], {rot: Math.PI / 6, size: 14});
T(X(gJ, 2) - 3, 1124, J_categories[1], {rot: Math.PI / 6, size: 14});
R(258, 1055, [['G'], ['max', 1], ['(nS)']], {rot: PI2, size: 16, sub: 9});

// K
T(610, 968, 'Temperature (ºC)', {size: 16});
T(610, 1135, 'Temperature (ºC)', {size: 16});
R(490, 880, [['I'], ['+100', 1], ['/I'], ['+100 at 20ºC', 1]], {rot: PI2, size: 16, sub: 9});
R(490, 1052, [['I'], ['+100', 1], ['/I'], ['+100 at 20 ºC + menthol', 1]], {rot: PI2, size: 16, sub: 9});
dot(588, 991, 5.5, '#000'); T(604, 991, 'mTRPM8', {align: 'left', size: 13});
dot(588, 1004, 5.5, BLUE); T(604, 1004, 'cTRPM8', {align: 'left', size: 13});

chart.setOption({graphic: {elements: GR}});
</script>
</body>
</html>
